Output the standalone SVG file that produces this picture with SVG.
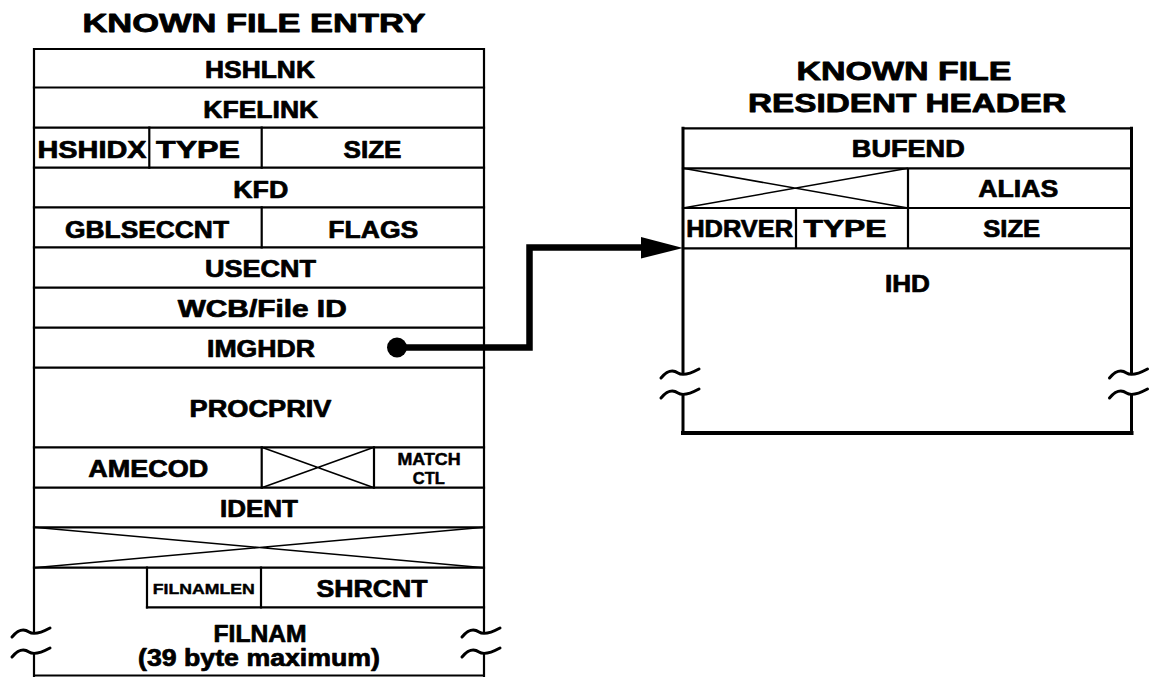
<svg xmlns="http://www.w3.org/2000/svg" width="1157" height="677" viewBox="0 0 1157 677">
<style>
  .bg { fill: #ffffff; }
  .ln { stroke: #000; stroke-width: 2.2; fill: none; stroke-linecap: square; }
  .lnh { stroke: #000; stroke-width: 3; fill: none; stroke-linecap: square; }
  .xl { stroke: #000; stroke-width: 1.6; fill: none; }
  .sq { stroke: #000; stroke-width: 3; fill: none; stroke-linecap: round; stroke-linejoin: round; }
  .t { font-family: "Liberation Sans", Arial, sans-serif; font-weight: bold; font-size: 23px; fill: #000; stroke: #000; stroke-width: 0.7; stroke-linejoin: round; text-anchor: middle; }
  .ts { font-size: 16px; stroke-width: 0.5; }
  .tx { font-size: 14px; stroke-width: 0.4; }
  .title { font-size: 25px; stroke-width: 0.8; }
  .conn { stroke: #000; stroke-width: 6.5; fill: none; stroke-linejoin: miter; }
</style>
<defs>
  <path id="brk" d="M -22 3 C -16 -4 -11 -6 -5 -2 C -2 0 3 1 16 -6"/>
</defs>
<rect class="bg" x="0" y="0" width="1157" height="677"/>

<g id="title-left">
  <text class="t title" x="254" y="32" textLength="343" lengthAdjust="spacingAndGlyphs">KNOWN FILE ENTRY</text>
</g>
<g id="title-right">
  <text class="t title" x="904" y="80" textLength="215" lengthAdjust="spacingAndGlyphs">KNOWN FILE</text>
  <text class="t title" x="907" y="112" textLength="318" lengthAdjust="spacingAndGlyphs">RESIDENT HEADER</text>
</g>

<g id="known-file-entry">
  <path class="ln" d="M34 49 H484 M34 49 V632 M34 654 V676 M484 49 V632 M484 654 V676 M34 675.5 H484"/>
  <path class="ln" d="M34 87.5 H484 M34 127.7 H484 M34 167.7 H484 M34 207.3 H484 M34 247.3 H484 M34 287.7 H484 M34 327.7 H484 M34 367.7 H484 M34 447.3 H484 M34 487.7 H484 M34 527.3 H484 M34 567.7 H484 M147 607.3 H484"/>
  <path class="ln" d="M149.3 127.7 V167.7 M261.7 127.7 V167.7 M261.7 207.3 V247.3 M261.7 447.3 V487.7 M374 447.3 V487.7 M147 567.7 V607.3 M261 567.7 V607.3"/>
  <path class="xl" d="M261.7 447.3 L374 487.7 M261.7 487.7 L374 447.3"/>
  <path class="xl" d="M34 527.3 L484 567.7 M34 567.7 L484 527.3"/>
  <use href="#brk" class="sq" x="34" y="634"/>
  <use href="#brk" class="sq" x="34" y="654"/>
  <use href="#brk" class="sq" x="484" y="634"/>
  <use href="#brk" class="sq" x="484" y="654"/>

  <text class="t" x="260" y="78" textLength="110" lengthAdjust="spacingAndGlyphs">HSHLNK</text>
  <text class="t" x="260.8" y="118" textLength="115" lengthAdjust="spacingAndGlyphs">KFELINK</text>
  <text class="t" x="92" y="158" textLength="109" lengthAdjust="spacingAndGlyphs">HSHIDX</text>
  <text class="t" x="198" y="158" textLength="84" lengthAdjust="spacingAndGlyphs">TYPE</text>
  <text class="t" x="372.5" y="158" textLength="58" lengthAdjust="spacingAndGlyphs">SIZE</text>
  <text class="t" x="260.8" y="198" textLength="55" lengthAdjust="spacingAndGlyphs">KFD</text>
  <text class="t" x="147" y="237.5" textLength="164" lengthAdjust="spacingAndGlyphs">GBLSECCNT</text>
  <text class="t" x="373.3" y="237.5" textLength="90" lengthAdjust="spacingAndGlyphs">FLAGS</text>
  <text class="t" x="260.5" y="277" textLength="111" lengthAdjust="spacingAndGlyphs">USECNT</text>
  <text class="t" x="262.2" y="317" textLength="169" lengthAdjust="spacingAndGlyphs">WCB/File ID</text>
  <text class="t" x="261" y="357" textLength="108" lengthAdjust="spacingAndGlyphs">IMGHDR</text>
  <text class="t" x="260.5" y="416.5" textLength="142" lengthAdjust="spacingAndGlyphs">PROCPRIV</text>
  <text class="t" x="148.3" y="476.5" textLength="120" lengthAdjust="spacingAndGlyphs">AMECOD</text>
  <text class="t ts" x="429" y="465" textLength="63" lengthAdjust="spacingAndGlyphs">MATCH</text>
  <text class="t ts" x="428.8" y="484" textLength="32" lengthAdjust="spacingAndGlyphs">CTL</text>
  <text class="t" x="259" y="517" textLength="78" lengthAdjust="spacingAndGlyphs">IDENT</text>
  <text class="t tx" x="203.8" y="593.5" textLength="102" lengthAdjust="spacingAndGlyphs">FILNAMLEN</text>
  <text class="t" x="372" y="597" textLength="111" lengthAdjust="spacingAndGlyphs">SHRCNT</text>
  <text class="t" x="260" y="641.5" textLength="93" lengthAdjust="spacingAndGlyphs">FILNAM</text>
  <text class="t" x="259" y="665.5" textLength="242" lengthAdjust="spacingAndGlyphs">(39 byte maximum)</text>
</g>

<g id="known-file-resident-header">
  <path class="ln" d="M683 128.3 H1131.5 M683 168.3 H1131.5 M683 208 H1131.5 M683 248.3 H1131.5 M908 168.3 V248.3 M796 208 V248.3"/>
  <path class="lnh" d="M683 128.3 V373 M683 395 V433 M1131.5 128.3 V373 M1131.5 395 V433"/>
  <path d="M683 433 H1131.5" stroke="#000" stroke-width="4" fill="none" stroke-linecap="square"/>
  <path class="xl" d="M683 168.3 L908 208 M683 208 L908 168.3"/>
  <use href="#brk" class="sq" x="683" y="375"/>
  <use href="#brk" class="sq" x="683" y="395"/>
  <use href="#brk" class="sq" x="1131.5" y="375"/>
  <use href="#brk" class="sq" x="1131.5" y="395"/>

  <text class="t" x="908.3" y="157" textLength="113" lengthAdjust="spacingAndGlyphs">BUFEND</text>
  <text class="t" x="1018.3" y="196.7" textLength="80" lengthAdjust="spacingAndGlyphs">ALIAS</text>
  <text class="t" x="739.7" y="236.5" textLength="107" lengthAdjust="spacingAndGlyphs">HDRVER</text>
  <text class="t" x="845" y="236.5" textLength="83" lengthAdjust="spacingAndGlyphs">TYPE</text>
  <text class="t" x="1011.7" y="236.5" textLength="57" lengthAdjust="spacingAndGlyphs">SIZE</text>
  <text class="t" x="907.5" y="292" textLength="45" lengthAdjust="spacingAndGlyphs">IHD</text>
</g>

<g id="connectors">
  <circle cx="397" cy="347.5" r="10" fill="#000"/>
  <path class="conn" d="M397 347.5 H529.5 V247.5 H646"/>
  <polygon points="641,237 683,248 641,258.5" fill="#000"/>
</g>
</svg>
